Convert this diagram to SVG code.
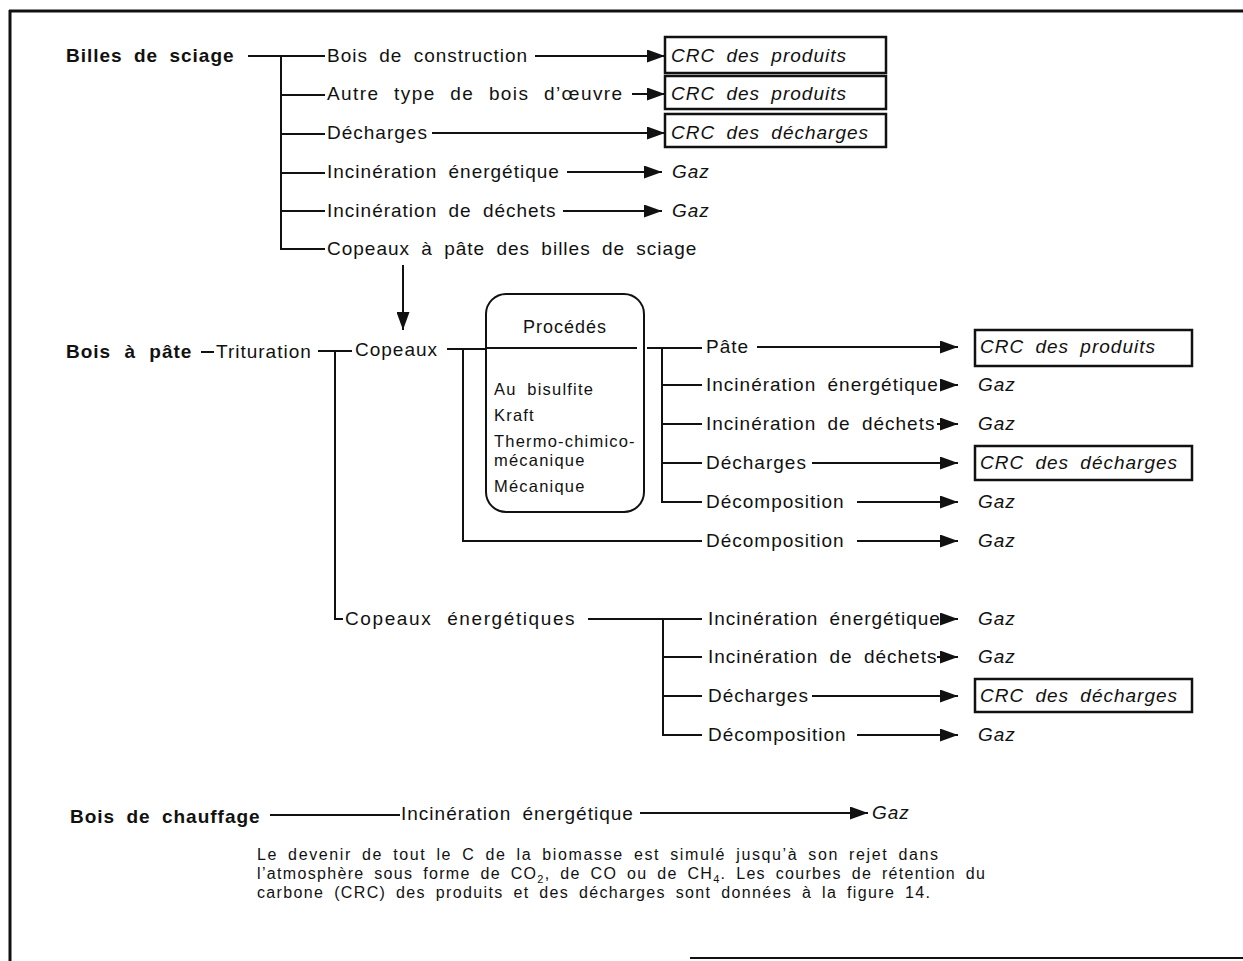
<svg xmlns="http://www.w3.org/2000/svg" width="1243" height="961" viewBox="0 0 1243 961">
<style>
.t{font-family:"Liberation Sans",Arial,Helvetica,sans-serif;font-size:19px;letter-spacing:1px;word-spacing:5px;fill:#111}
.b{font-weight:bold}
.i{font-style:italic}
.s{font-size:16.5px;letter-spacing:1.2px}
.c{font-family:"Liberation Sans",Arial,Helvetica,sans-serif;font-size:16px;word-spacing:4px;fill:#111}
.ln{stroke:#111;stroke-width:2;fill:none}
.ar{stroke:#111;stroke-width:2;fill:none;marker-end:url(#ah)}
.bx{stroke:#111;stroke-width:2.5;fill:none}
.fr{stroke:#111;fill:none}
</style>
<defs>
<marker id="ah" markerUnits="userSpaceOnUse" markerWidth="18" markerHeight="13" refX="18" refY="6.5" orient="auto">
<path d="M0,0 L18,6.5 L0,13 z" fill="#111"/>
</marker>
</defs>
<rect width="1243" height="961" fill="#fff"/>
<g id="frame">
<line class="fr" x1="9" y1="11" x2="1243" y2="11" stroke-width="3"/>
<line class="fr" x1="10" y1="10" x2="10" y2="961" stroke-width="3"/>
<line class="fr" x1="690" y1="958" x2="1243" y2="958" stroke-width="2"/>
</g>
<g id="connectors">
<line class="ln" x1="248" y1="56" x2="325" y2="56"/>
<line class="ln" x1="281" y1="56" x2="281" y2="250"/>
<line class="ln" x1="281" y1="95" x2="325" y2="95"/>
<line class="ln" x1="281" y1="134" x2="325" y2="134"/>
<line class="ln" x1="281" y1="173" x2="325" y2="173"/>
<line class="ln" x1="281" y1="211" x2="325" y2="211"/>
<line class="ln" x1="280" y1="249" x2="325" y2="249"/>
<line class="ar" x1="535" y1="56" x2="665" y2="56"/>
<line class="ar" x1="632" y1="94" x2="665" y2="94"/>
<line class="ar" x1="432" y1="133" x2="665" y2="133"/>
<line class="ar" x1="567" y1="172" x2="662" y2="172"/>
<line class="ar" x1="563" y1="211" x2="662" y2="211"/>
<line class="ar" x1="403" y1="265" x2="403" y2="330"/>
<line class="ln" x1="201" y1="352" x2="214" y2="352"/>
<line class="ln" x1="318" y1="351" x2="352" y2="351"/>
<line class="ln" x1="335" y1="351" x2="335" y2="620"/>
<line class="ln" x1="334" y1="619" x2="343" y2="619"/>
<line class="ln" x1="447" y1="349" x2="486" y2="349"/>
<line class="ln" x1="463" y1="349" x2="463" y2="542"/>
<line class="ln" x1="462" y1="541" x2="702" y2="541"/>
<line class="ln" x1="647" y1="348" x2="702" y2="348"/>
<line class="ln" x1="662" y1="348" x2="662" y2="503"/>
<line class="ln" x1="662" y1="385" x2="702" y2="385"/>
<line class="ln" x1="662" y1="424" x2="702" y2="424"/>
<line class="ln" x1="662" y1="463" x2="702" y2="463"/>
<line class="ln" x1="661" y1="502" x2="702" y2="502"/>
<line class="ar" x1="757" y1="347" x2="958" y2="347"/>
<line class="ar" x1="940" y1="385" x2="958" y2="385"/>
<line class="ar" x1="937" y1="424" x2="958" y2="424"/>
<line class="ar" x1="812" y1="463" x2="958" y2="463"/>
<line class="ar" x1="857" y1="502" x2="958" y2="502"/>
<line class="ar" x1="857" y1="541" x2="958" y2="541"/>
<line class="ln" x1="588" y1="619" x2="702" y2="619"/>
<line class="ln" x1="663" y1="619" x2="663" y2="736"/>
<line class="ln" x1="663" y1="657" x2="702" y2="657"/>
<line class="ln" x1="663" y1="696" x2="702" y2="696"/>
<line class="ln" x1="662" y1="735" x2="702" y2="735"/>
<line class="ar" x1="940" y1="619" x2="958" y2="619"/>
<line class="ar" x1="937" y1="657" x2="958" y2="657"/>
<line class="ar" x1="812" y1="696" x2="958" y2="696"/>
<line class="ar" x1="857" y1="735" x2="958" y2="735"/>
<line class="ln" x1="270" y1="815" x2="400" y2="815"/>
<line class="ar" x1="640" y1="813" x2="868" y2="813"/>
</g>
<g id="billes-de-sciage"><text class="t b" x="66" y="62">Billes de sciage</text></g>
<g id="bois-de-construction"><text class="t" x="327" y="62">Bois de construction</text></g>
<g id="autre-type"><text class="t" x="327" y="100" style="word-spacing:8px;letter-spacing:1.4px">Autre type de bois d’œuvre</text></g>
<g id="decharges-1"><text class="t" x="327" y="139">Décharges</text></g>
<g id="incin-energ-1"><text class="t" x="327" y="178">Incinération énergétique</text></g>
<g id="incin-dechets-1"><text class="t" x="327" y="217">Incinération de déchets</text></g>
<g id="copeaux-billes"><text class="t" x="327" y="255">Copeaux à pâte des billes de sciage</text></g>
<g id="crc-produits-1"><rect class="bx" x="665" y="37" width="221" height="36"/><text class="t i" x="671" y="62">CRC des produits</text></g>
<g id="crc-produits-2"><rect class="bx" x="665" y="76" width="221" height="33"/><text class="t i" x="671" y="100">CRC des produits</text></g>
<g id="crc-decharges-1"><rect class="bx" x="665" y="114" width="221" height="33"/><text class="t i" x="671" y="139">CRC des décharges</text></g>
<g id="gaz-1"><text class="t i" x="672" y="178">Gaz</text></g>
<g id="gaz-2"><text class="t i" x="672" y="217">Gaz</text></g>
<g id="bois-a-pate"><text class="t b" x="66" y="358" style="word-spacing:7px">Bois à pâte</text></g>
<g id="trituration"><text class="t" x="216" y="358">Trituration</text></g>
<g id="copeaux"><text class="t" x="355" y="356">Copeaux</text></g>
<g id="procedes">
<rect class="ln" x="486" y="294" width="158" height="218" rx="20"/>
<line class="ln" x1="486" y1="348" x2="637" y2="348"/>
<text class="t" x="565" y="333" style="font-size:18px" text-anchor="middle">Procédés</text>
<text class="t s" x="494" y="395">Au bisulfite</text>
<text class="t s" x="494" y="421">Kraft</text>
<text class="t s" x="494" y="447">Thermo-chimico-</text>
<text class="t s" x="494" y="466">mécanique</text>
<text class="t s" x="494" y="492">Mécanique</text>
</g>
<g id="pate"><text class="t" x="706" y="353">Pâte</text></g>
<g id="incin-energ-2"><text class="t" x="706" y="391">Incinération énergétique</text></g>
<g id="incin-dechets-2"><text class="t" x="706" y="430">Incinération de déchets</text></g>
<g id="decharges-2"><text class="t" x="706" y="469">Décharges</text></g>
<g id="decomp-1"><text class="t" x="706" y="508">Décomposition</text></g>
<g id="decomp-2"><text class="t" x="706" y="547">Décomposition</text></g>
<g id="crc-produits-3"><rect class="bx" x="975" y="330" width="217" height="36"/><text class="t i" x="980" y="353">CRC des produits</text></g>
<g id="crc-decharges-2"><rect class="bx" x="975" y="446" width="217" height="34"/><text class="t i" x="980" y="469">CRC des décharges</text></g>
<g id="gaz-3"><text class="t i" x="978" y="391">Gaz</text></g>
<g id="gaz-4"><text class="t i" x="978" y="430">Gaz</text></g>
<g id="gaz-5"><text class="t i" x="978" y="508">Gaz</text></g>
<g id="gaz-6"><text class="t i" x="978" y="547">Gaz</text></g>
<g id="copeaux-energ"><text class="t" x="345" y="625" style="word-spacing:8px;letter-spacing:1.6px">Copeaux énergétiques</text></g>
<g id="incin-energ-3"><text class="t" x="708" y="625">Incinération énergétique</text></g>
<g id="incin-dechets-3"><text class="t" x="708" y="663">Incinération de déchets</text></g>
<g id="decharges-3"><text class="t" x="708" y="702">Décharges</text></g>
<g id="decomp-3"><text class="t" x="708" y="741">Décomposition</text></g>
<g id="crc-decharges-3"><rect class="bx" x="975" y="679" width="217" height="33"/><text class="t i" x="980" y="702">CRC des décharges</text></g>
<g id="gaz-7"><text class="t i" x="978" y="625">Gaz</text></g>
<g id="gaz-8"><text class="t i" x="978" y="663">Gaz</text></g>
<g id="gaz-9"><text class="t i" x="978" y="741">Gaz</text></g>
<g id="bois-de-chauffage"><text class="t b" x="70" y="823">Bois de chauffage</text></g>
<g id="incin-energ-4"><text class="t" x="401" y="820">Incinération énergétique</text></g>
<g id="gaz-10"><text class="t i" x="872" y="819">Gaz</text></g>
<g id="caption">
<text class="c" x="257" y="860" textLength="681" lengthAdjust="spacing">Le devenir de tout le C de la biomasse est simulé jusqu’à son rejet dans</text>
<text class="c" x="257" y="879" textLength="728" lengthAdjust="spacing">l’atmosphère sous forme de CO<tspan font-size="11" dy="4">2</tspan><tspan dy="-4">, de CO ou de CH</tspan><tspan font-size="11" dy="4">4</tspan><tspan dy="-4">. Les courbes de rétention du</tspan></text>
<text class="c" x="257" y="898" textLength="673" lengthAdjust="spacing">carbone (CRC) des produits et des décharges sont données à la figure 14.</text>
</g>
</svg>
